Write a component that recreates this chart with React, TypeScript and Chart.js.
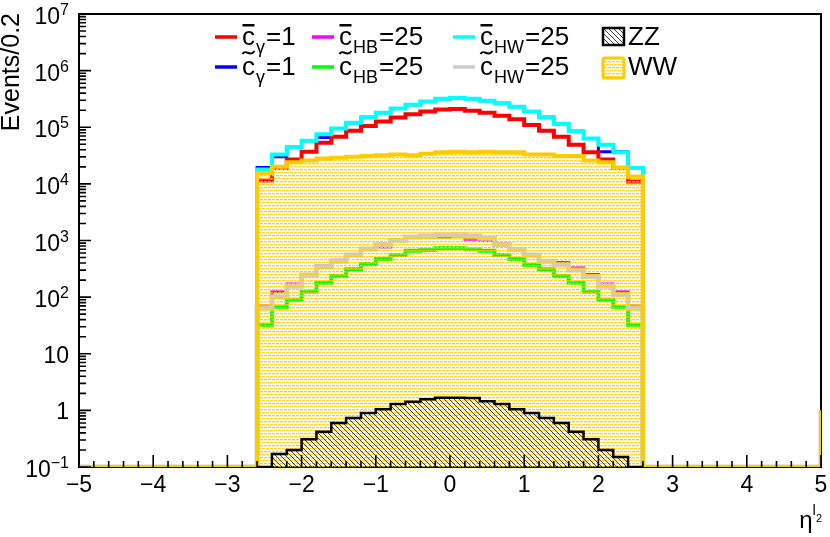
import { useEffect, useRef } from "react";
import { Chart, registerables } from "chart.js";

Chart.register(...registerables);

const FONT = '"Liberation Sans", Arial, Helvetica, sans-serif';

// Bin edges of the filled bins (Events / 0.2)
const binEdges = [
  -2.6, -2.4, -2.2, -2.0, -1.8, -1.6, -1.4, -1.2, -1.0, -0.8, -0.6, -0.4, -0.2,
  0.0, 0.2, 0.4, 0.6, 0.8, 1.0, 1.2, 1.4, 1.6, 1.8, 2.0, 2.2, 2.4, 2.6,
];

// Series (one value per bin)
const cBarGamma = [1.15e4, 1.9e4, 2.7e4, 3.7e4, 5.3e4, 6.8e4, 8.7e4, 1.05e5, 1.26e5, 1.48e5, 1.7e5, 1.9e5, 2.05e5, 2.1e5, 1.95e5, 1.8e5, 1.6e5, 1.38e5, 1.1e5, 8.7e4, 6.8e4, 4.9e4, 3.6e4, 2.7e4, 1.9e4, 1.1e4];
const cTildeGamma = [1.95e4, 3.0e4, 4.5e4, 5.8e4, 6.6e4, 9.5e4, 1.2e5, 1.5e5, 1.8e5, 2.15e5, 2.5e5, 2.85e5, 3.2e5, 3.3e5, 3.2e5, 2.95e5, 2.65e5, 2.3e5, 1.9e5, 1.5e5, 1.15e5, 8.5e4, 6.3e4, 3.7e4, 3.7e4, 1.9e4];
const cBarHB = [70, 125, 170, 245, 355, 450, 555, 710, 770, 1000, 1150, 1150, 1150, 1200, 1050, 1000, 880, 700, 555, 440, 410, 330, 250, 170, 125, 70];
const cTildeHB = [32, 66, 90, 125, 180, 237, 310, 385, 470, 555, 660, 680, 730, 730, 700, 660, 555, 470, 370, 310, 237, 180, 125, 90, 66, 32];
const cBarHW = [1.8e4, 3.3e4, 4.5e4, 5.8e4, 7.5e4, 9.5e4, 1.2e5, 1.5e5, 1.8e5, 2.15e5, 2.5e5, 2.85e5, 3.2e5, 3.3e5, 3.2e5, 2.95e5, 2.65e5, 2.3e5, 1.9e5, 1.5e5, 1.15e5, 8.5e4, 6.3e4, 4.9e4, 3.6e4, 1.9e4];
const cTildeHW = [64, 102, 155, 245, 345, 430, 555, 710, 840, 1000, 1150, 1200, 1250, 1250, 1200, 1100, 840, 690, 555, 430, 370, 300, 230, 155, 110, 64];
const zzValues = [0.1, 0.17, 0.2, 0.31, 0.42, 0.6, 0.73, 0.9, 1.05, 1.3, 1.42, 1.58, 1.67, 1.67, 1.65, 1.45, 1.3, 1.05, 0.9, 0.73, 0.6, 0.42, 0.31, 0.2, 0.15, 0.1];
const wwValues = [1.55e4, 2.0e4, 2.4e4, 2.6e4, 2.8e4, 2.9e4, 3.0e4, 3.1e4, 3.2e4, 3.3e4, 3.2e4, 3.4e4, 3.6e4, 3.7e4, 3.6e4, 3.7e4, 3.6e4, 3.6e4, 3.3e4, 3.3e4, 3.1e4, 3.1e4, 2.6e4, 2.4e4, 1.95e4, 1.35e4];
const wwOverflow = 1;
const grayOverflow = 1;

// Axes
const xRange = [-5, 5];
const yRange = [0.1, 1e7];
const xMajorTicks = [-5, -4, -3, -2, -1, 0, 1, 2, 3, 4, 5];
const xTickLabels = ["−5", "−4", "−3", "−2", "−1", "0", "1", "2", "3", "4", "5"];
const yMajorTicks = [0.1, 1, 10, 100, 1e3, 1e4, 1e5, 1e6, 1e7];
const yTickBase = ["10", "1", "10", "10", "10", "10", "10", "10", "10"];
const yTickExp = ["−1", "", "", "2", "3", "4", "5", "6", "7"];
const yTitle = "Events/0.2";

// Legend
const legendColors = ["#ff0000", "#0000ff", "#ff00ff", "#00ff00", "#00ffff", "#cccccc"];
const legendAccents = ["bar", "tilde", "bar", "tilde", "bar", "tilde"];
const legendSubs = ["γ", "γ", "HB", "HB", "HW", "HW"];
const legendTails = ["=1", "=1", "=25", "=25", "=25", "=25"];
const bkgLabels = ["ZZ", "WW"];

type Pt = { x: number; y: number };

function histPoints(values: number[], floor: number, extend?: { min: number; max: number; overflow?: number }): Pt[] {
  const pts: Pt[] = [];
  const n = values.length;
  if (extend) pts.push({ x: extend.min, y: floor });
  pts.push({ x: binEdges[0], y: floor });
  for (let i = 0; i < n; i++) {
    const v = Math.max(values[i], floor);
    pts.push({ x: binEdges[i], y: v });
    pts.push({ x: binEdges[i + 1], y: v });
  }
  pts.push({ x: binEdges[n], y: floor });
  if (extend) {
    pts.push({ x: extend.max, y: floor });
    if (extend.overflow) pts.push({ x: extend.max, y: extend.overflow });
  }
  return pts;
}

function makeWWPattern(ctx: CanvasRenderingContext2D) {
  const c = document.createElement("canvas");
  c.width = 8;
  c.height = 6;
  const g = c.getContext("2d")!;
  g.fillStyle = "rgba(255,204,0,0.95)";
  g.fillRect(0, 1, 3, 1);
  g.fillRect(4, 1, 3, 1);
  g.fillStyle = "rgba(255,204,0,0.8)";
  g.fillRect(2, 4, 3, 1);
  g.fillRect(6, 4, 2, 1);
  g.fillRect(0, 4, 1, 1);
  g.fillStyle = "rgba(255,214,60,0.35)";
  g.fillRect(0, 2, 8, 1);
  g.fillRect(0, 5, 8, 1);
  return ctx.createPattern(c, "repeat")!;
}

function makeZZPattern(ctx: CanvasRenderingContext2D) {
  const c = document.createElement("canvas");
  c.width = 5;
  c.height = 5;
  const g = c.getContext("2d")!;
  g.fillStyle = "rgba(20,20,20,0.8)";
  for (let i = 0; i < 5; i++) g.fillRect(i, i, 1, 1);
  return ctx.createPattern(c, "repeat")!;
}

type Part = { t: string; size: number; dy: number };

function drawRich(ctx: CanvasRenderingContext2D, parts: Part[], x: number, y: number, align: "left" | "right" | "center") {
  const widths = parts.map((p) => {
    ctx.font = `${p.size}px ${FONT}`;
    return ctx.measureText(p.t).width;
  });
  const total = widths.reduce((a, b) => a + b, 0);
  let cx = align === "left" ? x : align === "right" ? x - total : x - total / 2;
  ctx.textAlign = "left";
  ctx.textBaseline = "alphabetic";
  parts.forEach((p, i) => {
    ctx.font = `${p.size}px ${FONT}`;
    ctx.fillText(p.t, cx, y + p.dy);
    cx += widths[i];
  });
}

export default function App() {
  const ref = useRef<HTMLCanvasElement>(null);

  useEffect(() => {
    const canvas = ref.current!;
    const ctx0 = canvas.getContext("2d")!;
    const wwPattern = makeWWPattern(ctx0);
    const zzPattern = makeZZPattern(ctx0);
    const floor = yRange[0];

    const rootPlugin = {
      id: "rootStyle",
      beforeDatasetsDraw(chart: any) {
        const ctx: CanvasRenderingContext2D = chart.ctx;
        const a = chart.chartArea;
        ctx.save();
        ctx.strokeStyle = "#000";
        ctx.lineWidth = 2;
        ctx.strokeRect(a.left, a.top, a.right - a.left, a.bottom - a.top);
        ctx.restore();
      },
      afterDatasetsDraw(chart: any) {
        const ctx: CanvasRenderingContext2D = chart.ctx;
        const a = chart.chartArea;
        const xs = chart.scales.x;
        const ys = chart.scales.y;
        ctx.save();
        ctx.strokeStyle = "#000";
        ctx.fillStyle = "#000";
        ctx.lineWidth = 1.6;
        // x ticks
        ctx.beginPath();
        for (let i = 0; i < xMajorTicks.length; i++) {
          const m = xMajorTicks[i];
          const px = xs.getPixelForValue(m);
          ctx.moveTo(px, a.bottom);
          ctx.lineTo(px, a.bottom - 12);
          if (i < xMajorTicks.length - 1) {
            const step = (xMajorTicks[i + 1] - m) / 5;
            for (let k = 1; k < 5; k++) {
              const p = xs.getPixelForValue(m + k * step);
              ctx.moveTo(p, a.bottom);
              ctx.lineTo(p, a.bottom - 6);
            }
          }
        }
        // y ticks
        for (let i = 0; i < yMajorTicks.length; i++) {
          const d = yMajorTicks[i];
          const py = ys.getPixelForValue(d);
          ctx.moveTo(a.left, py);
          ctx.lineTo(a.left + 12, py);
          if (i < yMajorTicks.length - 1) {
            for (let k = 2; k < 10; k++) {
              const p = ys.getPixelForValue(k * d);
              ctx.moveTo(a.left, p);
              ctx.lineTo(a.left + 7, p);
            }
          }
        }
        ctx.stroke();

        // x labels
        xMajorTicks.forEach((m, i) => {
          drawRich(ctx, [{ t: xTickLabels[i], size: 23, dy: 0 }], xs.getPixelForValue(m), a.bottom + 25, "center");
        });
        // y labels
        yMajorTicks.forEach((v, i) => {
          const py = ys.getPixelForValue(v);
          if (yTickExp[i]) {
            drawRich(ctx, [
              { t: yTickBase[i], size: 23, dy: 0 },
              { t: yTickExp[i], size: 16, dy: -9 },
            ], a.left - 10, py + 10, "right");
          } else {
            drawRich(ctx, [{ t: yTickBase[i], size: 23, dy: 0 }], a.left - 10, py + 9, "right");
          }
        });
        // x title  η^{l_2}
        drawRich(ctx, [
          { t: "η", size: 24, dy: 0 },
          { t: "l", size: 15, dy: -13 },
          { t: "2", size: 11, dy: -6 },
        ], a.right + 1, a.bottom + 61, "right");
        // y title
        ctx.save();
        ctx.translate(19, a.top - 1);
        ctx.rotate(-Math.PI / 2);
        ctx.font = `25px ${FONT}`;
        ctx.textAlign = "right";
        ctx.textBaseline = "alphabetic";
        ctx.fillText(yTitle, 0, 0);
        ctx.restore();

        // legend
        const cols = [215, 312, 453];
        const rows = [45, 75];
        const lineLen = 22;
        legendColors.forEach((col, i) => {
          const c = Math.floor(i / 2);
          const r = i % 2;
          const b = rows[r];
          ctx.strokeStyle = col;
          ctx.lineWidth = 3.5;
          ctx.beginPath();
          ctx.moveTo(cols[c], b - 8);
          ctx.lineTo(cols[c] + lineLen, b - 8);
          ctx.stroke();
          const x0 = cols[c] + lineLen + 5;
          ctx.fillStyle = "#000";
          ctx.font = `26px ${FONT}`;
          ctx.textAlign = "left";
          ctx.textBaseline = "alphabetic";
          ctx.fillText("c", x0, b);
          const wC = ctx.measureText("c").width;
          if (legendAccents[i] === "bar") {
            ctx.fillRect(x0 + 0.5, b - 21, wC - 1, 2.5);
          } else {
            ctx.strokeStyle = "#000";
            ctx.lineWidth = 2;
            ctx.beginPath();
            ctx.moveTo(x0 + 0.5, b - 21);
            ctx.bezierCurveTo(x0 + wC * 0.3, b - 27, x0 + wC * 0.6, b - 17, x0 + wC - 0.5, b - 24);
            ctx.stroke();
          }
          ctx.font = `18px ${FONT}`;
          ctx.fillText(legendSubs[i], x0 + wC + 1, b + 8);
          const wS = ctx.measureText(legendSubs[i]).width;
          ctx.font = `26px ${FONT}`;
          ctx.fillText(legendTails[i], x0 + wC + wS + 2, b);
        });
        // ZZ box
        ctx.fillStyle = zzPattern;
        ctx.fillRect(603, 28, 21, 17);
        ctx.strokeStyle = "#000";
        ctx.lineWidth = 2.5;
        ctx.strokeRect(603, 28, 21, 17);
        // WW box
        ctx.fillStyle = "#ffffff";
        ctx.fillRect(603, 58, 21, 20);
        ctx.fillStyle = wwPattern;
        ctx.fillRect(603, 58, 21, 20);
        ctx.strokeStyle = "#ffcc00";
        ctx.lineWidth = 3;
        ctx.beginPath();
        (ctx as any).roundRect ? (ctx as any).roundRect(603, 58, 21, 20, 2) : ctx.rect(603, 58, 21, 20);
        ctx.stroke();
        ctx.fillStyle = "#000";
        ctx.font = `26px ${FONT}`;
        ctx.fillText(bkgLabels[0], 628, rows[0]);
        ctx.fillText(bkgLabels[1], 628, rows[1]);
        ctx.restore();
      },
    };

    const line = (data: Pt[], color: string, width: number, order: number, extra: any = {}) => ({
      data,
      borderColor: color,
      borderWidth: width,
      pointRadius: 0,
      pointHoverRadius: 0,
      tension: 0,
      fill: false,
      order,
      borderJoinStyle: "miter",
      borderCapStyle: "butt",
      ...extra,
    });

    const chart = new Chart(canvas, {
      type: "line",
      data: {
        datasets: [
          line(histPoints(zzValues, floor), "#000000", 2.5, 0, { fill: "start", backgroundColor: zzPattern }),
          line(histPoints(wwValues, floor, { min: xRange[0], max: xRange[1], overflow: wwOverflow }), "#ffcc00", 4, 1, { fill: "start", backgroundColor: wwPattern }),
          line(histPoints(cBarHW, floor), "#00ffff", 4, 2),
          line(histPoints(cTildeHW, floor, { min: xRange[0], max: xRange[1], overflow: grayOverflow }), "#cccccc", 5, 3),
          line(histPoints(cBarGamma, floor), "#ff0000", 4, 4),
          line(histPoints(cTildeHB, floor), "#00ff00", 4, 5),
          line(histPoints(cBarHB, floor), "#ff00ff", 3, 6),
          line(histPoints(cTildeGamma, floor), "#0000ff", 3, 7),
        ] as any,
      },
      options: {
        animation: false,
        responsive: false,
        devicePixelRatio: 1,
        layout: { padding: { left: 79, right: 9, top: 14, bottom: 70 } },
        scales: {
          x: { type: "linear", min: xRange[0], max: xRange[1], display: false },
          y: { type: "logarithmic", min: yRange[0], max: yRange[1], display: false },
        },
        plugins: { legend: { display: false }, tooltip: { enabled: false } },
        events: [],
      } as any,
      plugins: [rootPlugin],
    });
    return () => chart.destroy();
  }, []);

  return (
    <div style={{ position: "fixed", left: 0, top: 0, width: 830, height: 537, background: "#ffffff" }}>
      <canvas ref={ref} width={830} height={537} style={{ display: "block", width: 830, height: 537 }} />
    </div>
  );
}
